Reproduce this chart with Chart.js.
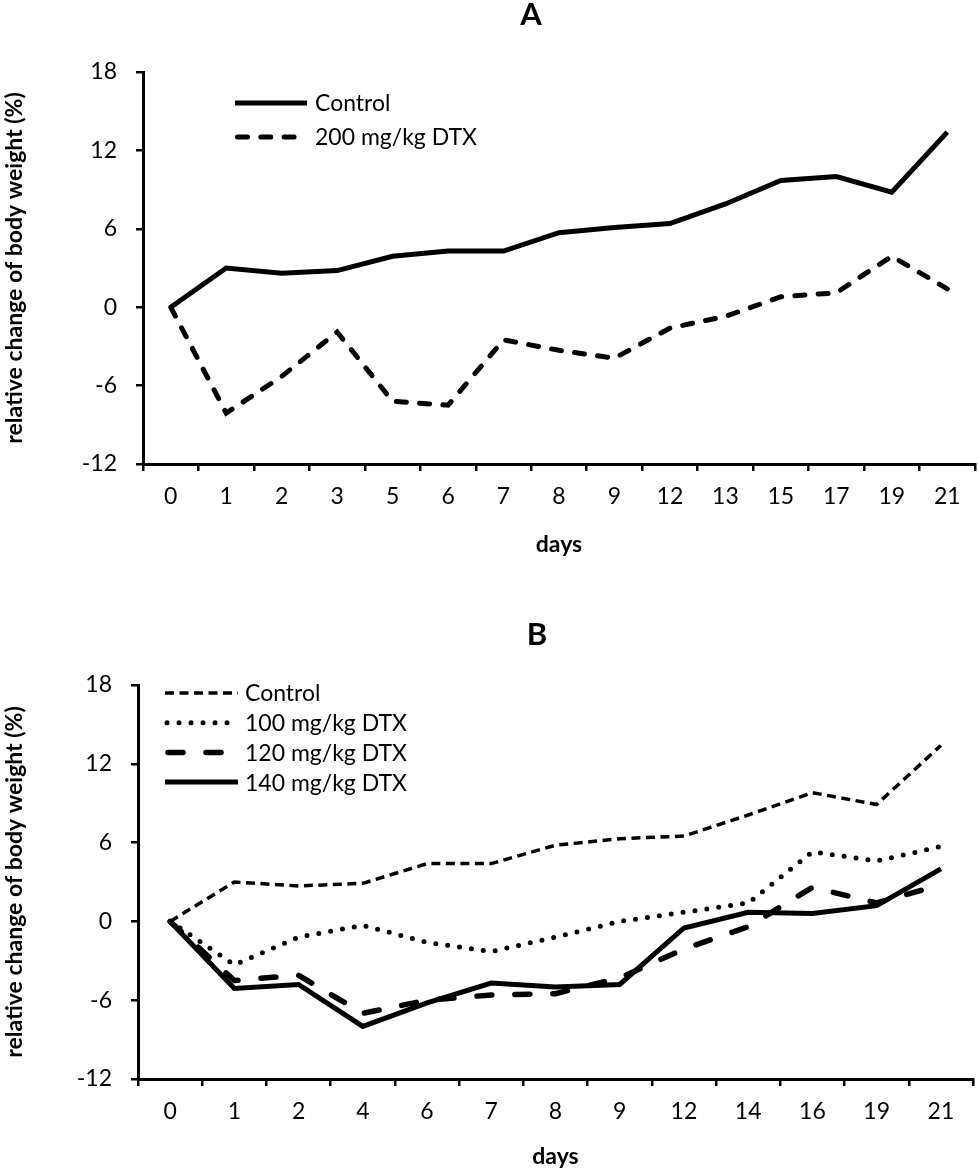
<!DOCTYPE html>
<html>
<head>
<meta charset="utf-8">
<script src="https://cdn.jsdelivr.net/npm/chart.js@4.4.1/dist/chart.umd.min.js"></script>
<style>
  html, body { margin:0; padding:0; background:#fff; }
  body { width:978px; height:1171px; position:relative; overflow:hidden; }
  canvas { position:absolute; left:0; }
  #cA { top:0; }
  #cB { top:590px; }
</style>
</head>
<body>
<canvas id="cA" width="978" height="560"></canvas>
<canvas id="cB" width="978" height="581"></canvas>
<script>
// ---- Data ----
const daysA = ['0','1','2','3','5','6','7','8','9','12','13','15','17','19','21'];
const controlA = [0, 3.0, 2.6, 2.8, 3.9, 4.3, 4.3, 5.7, 6.1, 6.4, 7.9, 9.7, 10.0, 8.8, 13.4];
const dtx200A  = [0, -8.1, -5.3, -1.9, -7.2, -7.5, -2.5, -3.3, -3.9, -1.6, -0.7, 0.8, 1.1, 3.9, 1.4];

const daysB = ['0','1','2','4','6','7','8','9','12','14','16','19','21'];
const controlB = [0, 3.0, 2.7, 2.9, 4.4, 4.4, 5.8, 6.3, 6.5, 8.1, 9.8, 8.9, 13.4];
const dtx100B  = [0, -3.3, -1.2, -0.3, -1.6, -2.3, -1.2, 0.0, 0.7, 1.4, 5.3, 4.6, 5.7];
const dtx120B  = [0, -4.5, -4.1, -7.0, -6.0, -5.6, -5.5, -4.3, -2.1, -0.4, 2.6, 1.4, 2.8];
const dtx140B  = [0, -5.1, -4.8, -8.0, -6.2, -4.7, -5.0, -4.8, -0.5, 0.7, 0.6, 1.2, 4.0];

const yMin = -12, yMax = 18, yStep = 6;
const xTitle = 'days';
const yTitle = 'relative change of body weight (%)';

// ---- Plugin: panel letter + inside legend ----
const panelPlugin = {
  id: 'panel',
  afterDraw(chart, args, o) {
    const ctx = chart.ctx;
    ctx.save();
    ctx.fillStyle = '#000';
    ctx.font = 'bold 31px Lato';
    ctx.textAlign = 'center';
    ctx.textBaseline = 'middle';
    ctx.fillText(o.title, o.titleX, o.titleY);
    ctx.font = '23px Lato';
    ctx.textAlign = 'left';
    chart.data.datasets.forEach((ds, i) => {
      const y = o.legY + i * o.legRow;
      const start = o.legStarts[i];
      const len = o.legLens[i];
      ctx.beginPath();
      ctx.strokeStyle = ds.borderColor;
      ctx.lineWidth = ds.borderWidth;
      ctx.lineCap = ds.borderCapStyle || 'butt';
      ctx.setLineDash(ds.borderDash || []);
      ctx.moveTo(start, y);
      ctx.lineTo(start + len, y);
      ctx.stroke();
      ctx.setLineDash([]);
      ctx.fillText(ds.label, o.textX, y + 1);
    });
    ctx.restore();
  }
};

function makeScales(yWidth, xHeight) {
  const tickFont = { family: 'Lato', size: 23 };
  const titleFont = { family: 'Lato', size: 23, weight: 'bold' };
  return {
    x: {
      type: 'category',
      offset: true,
      grid: { offset: true, drawOnChartArea: false, drawTicks: true, tickLength: 7, color: '#000', lineWidth: 2.5 },
      border: { display: true, color: '#000', width: 3 },
      ticks: { color: '#000', font: tickFont, padding: 12, maxRotation: 0, autoSkip: false },
      title: { display: true, text: xTitle, color: '#000', font: titleFont, padding: { top: 0, bottom: 0 } },
      afterFit(s) { s.height = xHeight; }
    },
    y: {
      min: yMin, max: yMax,
      grid: { drawOnChartArea: false, drawTicks: true, tickLength: 7, color: '#000', lineWidth: 2.5 },
      border: { display: true, color: '#000', width: 3 },
      ticks: { stepSize: yStep, color: '#000', font: tickFont, padding: 19 },
      title: { display: true, text: yTitle, color: '#000', font: titleFont, padding: { top: 1, bottom: 0 } },
      afterFit(s) { s.width = yWidth; }
    }
  };
}

function ds(label, data, width, dash, cap) {
  return { label, data, borderColor: '#000', backgroundColor: '#000', borderWidth: width,
           borderDash: dash, borderCapStyle: cap, borderJoinStyle: 'miter', pointRadius: 0,
           pointHoverRadius: 0, tension: 0, fill: false };
}

Chart.defaults.font.family = 'Lato';
Chart.defaults.color = '#000';

new Chart(document.getElementById('cA'), {
  type: 'line',
  data: {
    labels: daysA,
    datasets: [
      ds('Control', controlA, 5, [], 'butt'),
      ds('200 mg/kg DTX', dtx200A, 5, [10, 13.3], 'round')
    ]
  },
  options: {
    responsive: false, animation: false,
    layout: { padding: { top: 72, left: 0, right: 3, bottom: 2 } },
    plugins: {
      legend: { display: false }, title: { display: false }, tooltip: { enabled: false },
      panel: { title: 'A', titleX: 531, titleY: 15, legY: 103, legRow: 34,
               legStarts: [235, 237.5], legLens: [72, 57], textX: 315 }
    },
    scales: makeScales(143, 94)
  },
  plugins: [panelPlugin]
});

new Chart(document.getElementById('cB'), {
  type: 'line',
  data: {
    labels: daysB,
    datasets: [
      ds('Control', controlB, 3.5, [9, 5.5], 'butt'),
      ds('100 mg/kg DTX', dtx100B, 5, [0, 12], 'round'),
      ds('120 mg/kg DTX', dtx120B, 5.5, [15, 23], 'round'),
      ds('140 mg/kg DTX', dtx140B, 5, [], 'butt')
    ]
  },
  options: {
    responsive: false, animation: false,
    layout: { padding: { top: 95, left: 0, right: 5, bottom: 1 } },
    plugins: {
      legend: { display: false }, title: { display: false }, tooltip: { enabled: false },
      panel: { title: 'B', titleX: 537, titleY: 45, legY: 103, legRow: 29.7,
               legStarts: [165, 167, 168, 165], legLens: [73, 62, 60, 73], textX: 245 }
    },
    scales: makeScales(138, 91)
  },
  plugins: [panelPlugin]
});
</script>
</body>
</html>
